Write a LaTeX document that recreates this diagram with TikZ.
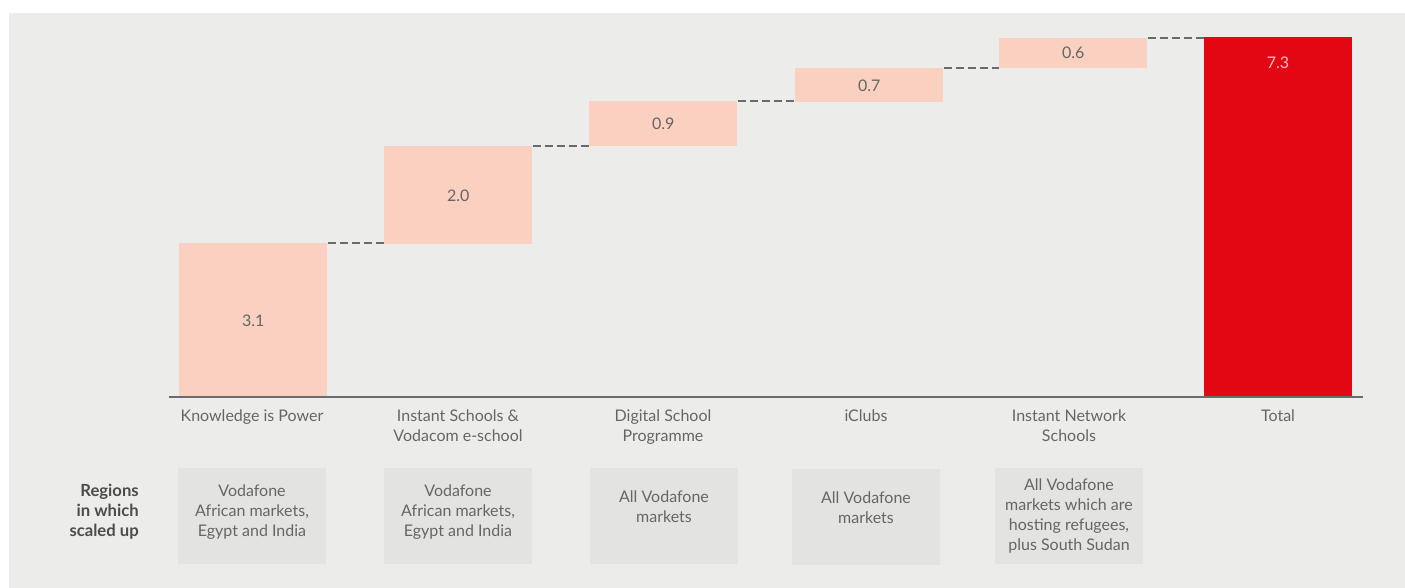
\documentclass[tikz,border=0pt]{standalone}
\usepackage{fontspec}
\setmainfont{Lato}
\definecolor{panel}{HTML}{ECECEA}
\definecolor{barc}{HTML}{FAD0C0}
\definecolor{totc}{HTML}{E30613}
\definecolor{boxc}{HTML}{E3E3E1}
\definecolor{txt}{HTML}{666666}
\definecolor{dashc}{HTML}{6A6A6A}
\begin{document}
\begin{tikzpicture}[x=0.75pt,y=-0.75pt,
  bar/.style={fill=barc,draw=none,anchor=north west,inner sep=0pt,text=txt,font=\fontsize{12}{15}\selectfont},
  totbar/.style={fill=totc,draw=none,anchor=north west,inner sep=0pt},
  link/.style={draw=dashc,line width=1.1pt,dash pattern=on 6pt off 3pt},
  cat/.style={text=txt,align=center,font=\fontsize{12}{15}\selectfont,anchor=north},
  regbox/.style={fill=boxc,draw=none,anchor=north west,inner sep=0pt},
  regtext/.style={text=txt,align=center,font=\fontsize{12}{15}\selectfont,anchor=north,inner sep=0pt},
  axis/.style={draw=gray!85!black,line width=0.9pt}]
\fill[white] (0,0) rectangle (1405,588);
\fill[panel] (9,13) rectangle (1405,588);
% bars
\node[bar,minimum width=148*0.75pt,minimum height=154*0.75pt] (b1) at (179,243) {3.1};
\node[bar,minimum width=148*0.75pt,minimum height=98*0.75pt] (b2) at (384,146) {2.0};
\node[bar,minimum width=148*0.75pt,minimum height=45*0.75pt] (b3) at (589,101) {\raisebox{-2pt}{0.9}};
\node[bar,minimum width=148*0.75pt,minimum height=34*0.75pt] (b4) at (795,68) {0.7};
\node[bar,minimum width=148*0.75pt,minimum height=30*0.75pt] (b5) at (999,38) {0.6};
\node[totbar,minimum width=148*0.75pt,minimum height=360*0.75pt] (tot) at (1204,37) {};
\node[text=totc!25!white,font=\fontsize{12}{15}\selectfont] (totv) at (1278,63) {7.3};
% dashed links
\draw[link] (b1.north east) -- (b1.north east -| b2.west);
\draw[link] (b2.north east) -- (b2.north east -| b3.west);
\draw[link] (b3.north east) -- (b3.north east -| b4.west);
\draw[link] (b4.north east) -- (b4.north east -| b5.west);
\draw[link] (b5.north east) -- (b5.north east -| tot.west);
% axis
\coordinate (axl) at (169,397);
\coordinate (axr) at (1363,397);
\draw[axis] (axl) -- (axr);
% category labels
\node[cat] (c1) at (252,405) {Knowledge is Power};
\node[cat] (c2) at (458,405) {Instant Schools \&\\Vodacom e-school};
\node[cat] (c3) at (663,405) {Digital School\\Programme};
\node[cat] (c4) at (866,405) {iClubs};
\node[cat] (c5) at (1069,405) {Instant Network\\Schools};
\node[cat] (c6) at (1278,405) {Total};
% regions
\node[anchor=east,align=right,inner sep=0pt,text=black!70,font=\bfseries\fontsize{12.5}{15}\selectfont] (reg) at (139,512) {Regions\\in which\\scaled up};
\node[regbox,minimum width=148*0.75pt,minimum height=96*0.75pt] (r1) at (178,468) {};
\node[regbox,minimum width=148*0.75pt,minimum height=96*0.75pt] (r2) at (384,468) {};
\node[regbox,minimum width=148*0.75pt,minimum height=96*0.75pt] (r3) at (590,468) {};
\node[regbox,minimum width=148*0.75pt,minimum height=96*0.75pt] (r4) at (792,469) {};
\node[regbox,minimum width=148*0.75pt,minimum height=96*0.75pt] (r5) at (995,468) {};
\node[regtext] (t1) at (252,484) {Vodafone\\African markets,\\Egypt and India};
\node[regtext] (t2) at (458,484) {Vodafone\\African markets,\\Egypt and India};
\node[regtext] (t3) at (664,490) {All Vodafone\\markets};
\node[regtext] (t4) at (866,491) {All Vodafone\\markets};
\node[regtext] (t5) at (1069,478) {All Vodafone\\markets which are\\hosting refugees,\\plus South Sudan};
\end{tikzpicture}
\end{document}
